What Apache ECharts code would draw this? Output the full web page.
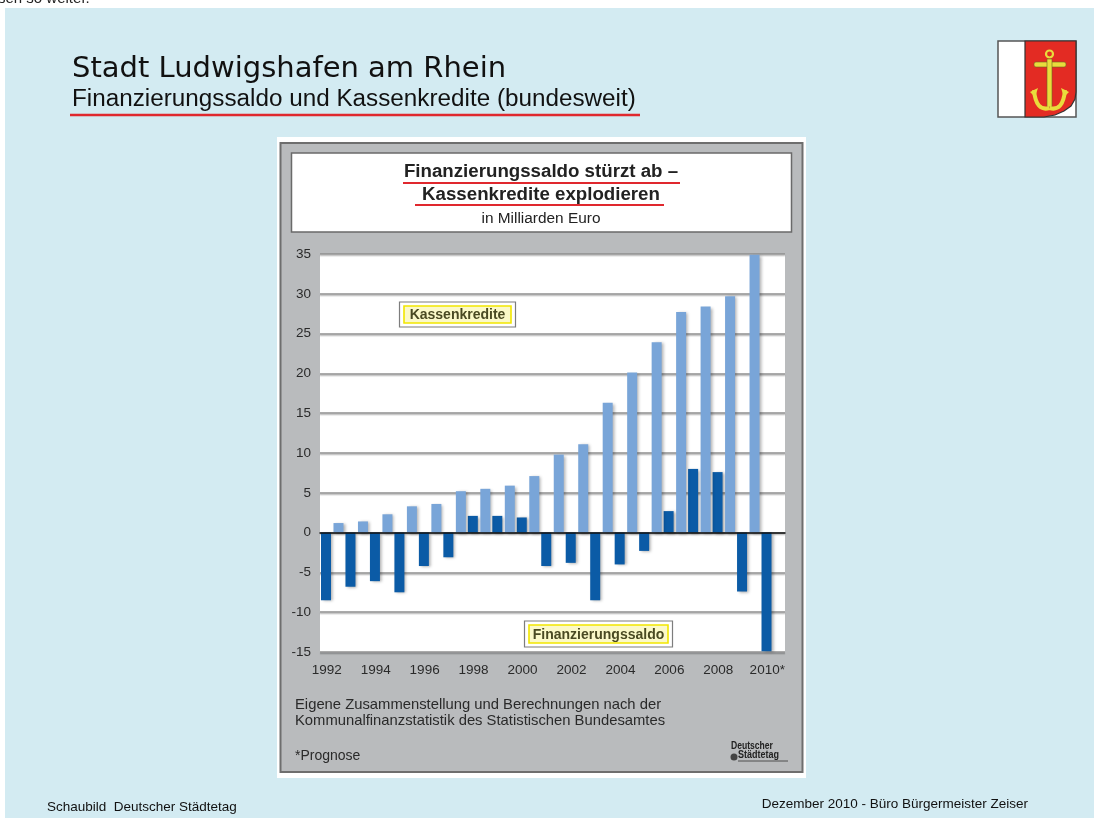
<!DOCTYPE html>
<html>
<head>
<meta charset="utf-8">
<script src="https://cdn.jsdelivr.net/npm/echarts@6/dist/echarts.min.js"></script>
<style>
html,body{margin:0;padding:0;background:#fff;}
#c{width:1094px;height:818px;}
</style>
</head>
<body>
<div id="c"></div>
<script>
// ---- data ----
const years = ['1992','1993','1994','1995','1996','1997','1998','1999','2000','2001','2002','2003','2004','2005','2006','2007','2008','2009','2010*'];
const finanzierungssaldo = [-8.5,-6.8,-6.1,-7.5,-4.2,-3.1,2.1,2.1,1.9,-4.2,-3.8,-8.5,-4.0,-2.3,2.7,8.0,7.6,-7.4,-14.9];
const kassenkredite = [1.2,1.4,2.3,3.3,3.6,5.2,5.5,5.9,7.1,9.8,11.1,16.3,20.1,23.9,27.7,28.4,29.7,34.9,null];
const yMin = -15, yMax = 35, yStep = 5;
const pageTitle = 'Stadt Ludwigshafen am Rhein';
const pageSubtitle = 'Finanzierungssaldo und Kassenkredite (bundesweit)';
const chartTitle1 = 'Finanzierungssaldo stürzt ab –';
const chartTitle2 = 'Kassenkredite explodieren';
const chartUnit = 'in Milliarden Euro';
const seriesNames = ['Finanzierungssaldo','Kassenkredite'];
const sourceLines = ['Eigene Zusammenstellung und Berechnungen nach der','Kommunalfinanzstatistik des Statistischen Bundesamtes'];
const noteText = '*Prognose';
const footerLeft = 'Schaubild  Deutscher Städtetag';
const footerRight = 'Dezember 2010 - Büro Bürgermeister Zeiser';

const SANS = '"Liberation Sans", Arial, Helvetica, sans-serif';
const DARK = '#0b5ba6';
const LIGHT = '#79a5d8';
const GOLD = '#e9dc3c';

function labelBox(x, y, w, h, text) {
  return {
    type: 'group', z: 100,
    children: [
      {type:'rect', shape:{x:x, y:y, width:w, height:h}, style:{fill:'#ffffff', stroke:'#7d7d7d', lineWidth:1.2}},
      {type:'rect', shape:{x:x+4.5, y:y+4, width:w-9, height:h-8}, style:{fill:'#fbf9c8', stroke:'#f2e600', lineWidth:1.6}},
      {type:'text', style:{text:text, x:x+w/2, y:y+h/2+1, textAlign:'center', textVerticalAlign:'middle', font:'bold 14px ' + SANS, fill:'#4a4a22'}}
    ]
  };
}

// shield outline points (coat of arms)
const shieldPts = [[1025,41],[1076,41],[1076,92],[1075,99],[1071,106],[1064,111],[1055,115],[1044,117],[1025,117]];

const chart = echarts.init(document.getElementById('c'), null, {renderer:'canvas'});

const graphics = [
  // page background
  {type:'rect', z:-20, shape:{x:5, y:8, width:1089, height:810}, style:{fill:'#d3ebf2'}},
  {type:'text', z:-19, style:{text:'sen so weiter.', x:-2, y:-9, textVerticalAlign:'top', font:'15px ' + SANS, fill:'#222'}},
  // page titles
  {type:'text', style:{text:pageTitle, x:72, y:69, textVerticalAlign:'middle', font:'29px "DejaVu Sans", sans-serif', fill:'#111'}},
  {type:'text', style:{text:pageSubtitle, x:72, y:100, textVerticalAlign:'middle', font:'23px ' + SANS, fill:'#111'}, scaleX:1.055, originX:72, originY:100},
  {type:'line', shape:{x1:70, y1:115, x2:640, y2:115}, style:{stroke:'#e0282e', lineWidth:2.5}},
  // coat of arms
  {type:'rect', shape:{x:998, y:41, width:78, height:76}, style:{fill:'#ffffff', stroke:'#555', lineWidth:1.5}},
  {type:'polygon', shape:{points:shieldPts}, style:{fill:'#e32b23', stroke:'#333', lineWidth:1.2}},
  {type:'circle', shape:{cx:1049.5, cy:54, r:3.5}, style:{fill:'none', stroke:GOLD, lineWidth:2.2}},
  {type:'rect', shape:{x:1034, y:62, width:32, height:5, r:2}, style:{fill:GOLD, stroke:'#6b6420', lineWidth:0.6}},
  {type:'rect', shape:{x:1047, y:59, width:5, height:48}, style:{fill:GOLD, stroke:'#6b6420', lineWidth:0.6}},
  {type:'bezierCurve', shape:{x1:1034, y1:90, cpx1:1036, cpy1:112, x2:1049.5, y2:108}, style:{fill:'none', stroke:GOLD, lineWidth:4}},
  {type:'bezierCurve', shape:{x1:1065, y1:90, cpx1:1063, cpy1:112, x2:1049.5, y2:108}, style:{fill:'none', stroke:GOLD, lineWidth:4}},
  {type:'polygon', shape:{points:[[1030,92],[1038,88],[1035,97]]}, style:{fill:GOLD}},
  {type:'polygon', shape:{points:[[1069,92],[1061,88],[1064,97]]}, style:{fill:GOLD}},
  // chart panel
  {type:'rect', z:-10, shape:{x:277, y:137, width:529, height:641}, style:{fill:'#ffffff'}},
  {type:'rect', z:-9, shape:{x:280.5, y:143, width:522, height:629}, style:{fill:'#b9bbbd', stroke:'#6e6e6e', lineWidth:2}},
  {type:'rect', z:-8, shape:{x:291.5, y:153, width:500, height:79}, style:{fill:'#ffffff', stroke:'#6a6a6a', lineWidth:1.5}},
  {type:'text', style:{text:chartTitle1, x:541, y:172, textAlign:'center', textVerticalAlign:'middle', font:'bold 18.7px ' + SANS, fill:'#222'}},
  {type:'line', shape:{x1:403, y1:183, x2:680, y2:183}, style:{stroke:'#e0282e', lineWidth:2.2}},
  {type:'text', style:{text:chartTitle2, x:541, y:195, textAlign:'center', textVerticalAlign:'middle', font:'bold 18.7px ' + SANS, fill:'#222'}},
  {type:'line', shape:{x1:415, y1:205, x2:664, y2:205}, style:{stroke:'#e0282e', lineWidth:2.2}},
  {type:'text', style:{text:chartUnit, x:541, y:219, textAlign:'center', textVerticalAlign:'middle', font:'14px ' + SANS, fill:'#222'}, scaleX:1.1, originX:541, originY:219},
  // series label boxes
  labelBox(399.5, 302, 116, 25, seriesNames[1]),
  labelBox(524.5, 621, 148, 26, seriesNames[0]),
  // source & note
  {type:'text', style:{text:sourceLines[0], x:295, y:705, textVerticalAlign:'middle', font:'14.8px ' + SANS, fill:'#2a2a2a'}},
  {type:'text', style:{text:sourceLines[1], x:295, y:721, textVerticalAlign:'middle', font:'14.8px ' + SANS, fill:'#2a2a2a'}},
  {type:'text', style:{text:noteText, x:295, y:756, textVerticalAlign:'middle', font:'14px ' + SANS, fill:'#2a2a2a'}},
  // Deutscher Städtetag logo
  {type:'text', style:{text:'Deutscher', x:731, y:746, textVerticalAlign:'middle', font:'bold 11px ' + SANS, fill:'#222'}, scaleX:0.78, originX:731, originY:746},
  {type:'text', style:{text:'Städtetag', x:738, y:755, textVerticalAlign:'middle', font:'bold 11px ' + SANS, fill:'#222'}, scaleX:0.82, originX:738, originY:755},
  {type:'circle', shape:{cx:734, cy:757, r:3.5}, style:{fill:'#444'}},
  {type:'line', shape:{x1:738, y1:761, x2:788, y2:761}, style:{stroke:'#333', lineWidth:0.8}},
  // footer
  {type:'text', style:{text:footerLeft, x:47, y:807, textVerticalAlign:'middle', font:'13.5px ' + SANS, fill:'#111'}},
  {type:'text', style:{text:footerRight, x:1028, y:804, textAlign:'right', textVerticalAlign:'middle', font:'13.5px ' + SANS, fill:'#111'}}
];

const option = {
  animation: false,
  backgroundColor: '#ffffff',
  grid: {left:320, top:254, width:465, height:398, show:true, backgroundColor:'#ffffff', borderWidth:0, z:0},
  xAxis: {
    type:'category', data: years,
    axisTick:{show:false},
    axisLine:{show:true, onZero:true, lineStyle:{color:'#111', width:1.5}},
    axisLabel:{interval:1, margin:11, padding:[0,11,0,0], color:'#2a2a2a', fontSize:13.5, fontFamily:SANS},
    z: 5
  },
  yAxis: {
    type:'value', min:yMin, max:yMax, interval:yStep,
    axisLine:{show:false}, axisTick:{show:false},
    axisLabel:{margin:9, color:'#2a2a2a', fontSize:13.5, fontFamily:SANS},
    splitLine:{show:true, lineStyle:{color:'#8e8e8e', width:1.6, shadowColor:'rgba(0,0,0,0.25)', shadowOffsetY:1.5, shadowBlur:1}}
  },
  series: [
    {name:seriesNames[0], type:'bar', data:finanzierungssaldo, barWidth:10, barGap:'25%',
     itemStyle:{color:DARK, shadowColor:'rgba(0,0,0,0.35)', shadowBlur:3, shadowOffsetX:2, shadowOffsetY:1}},
    {name:seriesNames[1], type:'bar', data:kassenkredite, barWidth:10,
     itemStyle:{color:LIGHT, shadowColor:'rgba(0,0,0,0.3)', shadowBlur:3, shadowOffsetX:2, shadowOffsetY:1}}
  ],
  graphic: graphics
};
chart.setOption(option);
</script>
</body>
</html>
